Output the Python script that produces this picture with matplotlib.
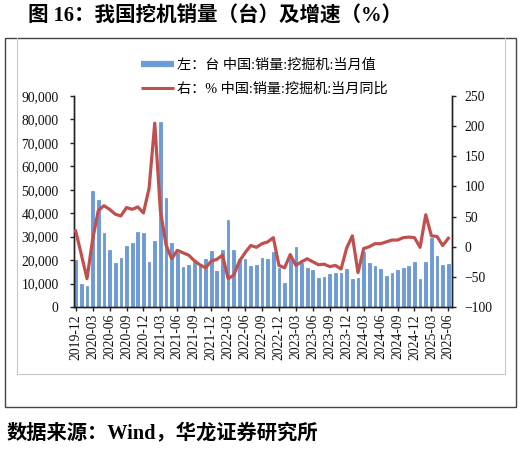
import matplotlib
matplotlib.use("Agg")
import matplotlib.pyplot as plt
from matplotlib.lines import Line2D
from matplotlib.patches import Rectangle
from matplotlib.ticker import FuncFormatter, MultipleLocator
import pandas as pd

months = pd.period_range("2019-12", "2025-06", freq="M").strftime("%Y-%m").tolist()

sales = [20000, 9700, 9000, 49400, 45600, 31500, 24500, 18800, 20700, 25900,
         27100, 32100, 31400, 19200, 28200, 79100, 46700, 27100, 22900, 17100,
         17800, 19300, 17500, 20300, 24000, 15400, 24300, 37100, 24300, 20300,
         20600, 17700, 17900, 20900, 20300, 23400, 16700, 10100, 21400, 25400,
         18900, 16700, 15600, 12300, 12900, 14000, 14300, 14700, 16400, 12100,
         12300, 23300, 18600, 17400, 16300, 13400, 14300, 15600, 16600, 17300,
         19000, 12100, 19000, 29600, 21900, 18000, 18400]

yoy = [26, -13, -53, 12, 60, 68, 62, 54, 51, 65,
       62, 66, 56, 97, 205, 60, 3, -20, -6, -10,
       -14, -23, -30, -35, -24, -21, -14, -53, -47, -24,
       -10, 2, -1, 5, 8, 15, -31, -35, -13, -31,
       -25, -20, -25, -30, -29, -33, -31, -37, -2, 18,
       -43, -3, 0, 5, 5, 8, 11, 11, 15, 16,
       15, -1, 53, 18, 17, 2, 14]

legend_labels = ["左：台 中国:销量:挖掘机:当月值", "右：% 中国:销量:挖掘机:当月同比"]
title = "图 16：我国挖机销量（台）及增速（%）"
source = "数据来源：Wind，华龙证券研究所"

FAM = ["Liberation Serif", "Noto Sans CJK SC"]
plt.rcParams["font.family"] = FAM

W, H = 521, 449
fig = plt.figure(figsize=(W / 100, H / 100), dpi=100)

ax = fig.add_axes([74 / W, (H - 307) / H, (452 - 74) / W, (307 - 96) / H])
x = list(range(len(months)))
bar_color = "#6B9BD9"
ax.bar(x, sales, width=0.48, color=bar_color, edgecolor="#4A7BC0", linewidth=0.4, zorder=2)
ax.set_xlim(-0.3, len(months) - 1 + 0.65)
ax.set_ylim(0, 90000)
ax.yaxis.set_major_locator(MultipleLocator(10000))
ax.yaxis.set_major_formatter(FuncFormatter(lambda v, p: f"{int(v):,}"))
ax.set_xticks(x[::3])
ax.set_xticklabels(months[::3], rotation=90)

ax2 = ax.twinx()
red = "#C0504D"
ax2.plot(x, yoy, color=red, lw=2.3, solid_joinstyle="round", zorder=3)
ax2.set_ylim(-100, 250)
ax2.yaxis.set_major_locator(MultipleLocator(50))

for a in (ax, ax2):
    a.spines["top"].set_visible(False)
    for s in ("left", "right", "bottom"):
        a.spines[s].set_color("#222222")
        a.spines[s].set_linewidth(1.0)
    a.tick_params(axis="both", direction="out", length=3, width=1,
                  colors="#222222", labelsize=9.8, labelcolor="#111111")
ax.tick_params(axis="y", pad=8)
ax2.tick_params(axis="y", pad=6)
ax.tick_params(axis="x", pad=2)

handles = [Line2D([], [], color=bar_color, lw=4.5, solid_capstyle="butt"),
           Line2D([], [], color=red, lw=2.2, solid_capstyle="butt")]
fig.legend(handles, legend_labels, loc="upper left",
           bbox_to_anchor=(141 / W, 1 - 59 / H), frameon=False,
           borderpad=0, borderaxespad=0, handlelength=2.3, handletextpad=0.25,
           labelspacing=0.7, prop={"family": FAM, "size": 10.2})

fig.text(28 / W, 1 - 16 / H, title, fontsize=14.8, fontweight="bold",
         va="center", ha="left", family=FAM)
fig.text(7 / W, 1 - 434 / H, source, fontsize=14.6, fontweight="bold",
         va="center", ha="left", family=FAM)

fig.add_artist(Rectangle((5 / W, 1 - 407 / H), (516 - 5) / W, (407 - 38) / H,
                         transform=fig.transFigure, fill=False,
                         edgecolor="#444444", lw=1.0))
for (x0, y0, x1, y1) in [(17, 38, 17, 374), (505, 38, 505, 374), (17, 374, 505, 374)]:
    fig.add_artist(Line2D([x0 / W, x1 / W], [1 - y0 / H, 1 - y1 / H],
                          transform=fig.transFigure, color="#C8C8C8", lw=0.8))

fig.savefig("out.png", dpi=100)
